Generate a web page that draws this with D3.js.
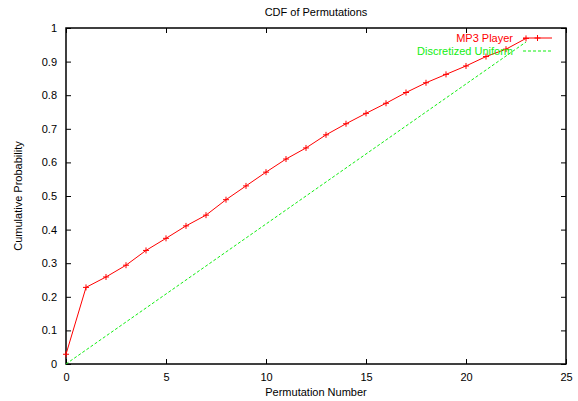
<!DOCTYPE html>
<html>
<head>
<meta charset="utf-8">
<script src="https://cdn.jsdelivr.net/npm/d3@7"></script>
<style>
  html, body { margin: 0; padding: 0; background: #fff; }
  svg { display: block; font-family: "Liberation Sans", Arial, sans-serif; }
</style>
</head>
<body>
<svg id="chart" width="578" height="401"></svg>
<script>
// Permutation indices and the measured cumulative probability of the MP3 player
const permutations = [0, 1, 2, 3, 4, 5, 6, 7, 8, 9, 10, 11, 12, 13, 14, 15, 16, 17, 18, 19, 20, 21, 22, 23];
const mp3Player = [0.029, 0.228, 0.259, 0.294, 0.338, 0.374, 0.411, 0.443, 0.489, 0.530, 0.571, 0.610,
                   0.643, 0.682, 0.715, 0.746, 0.776, 0.808, 0.837, 0.862, 0.887, 0.915, 0.937, 0.969];
// Discretized uniform reference: k/24
const uniform = [0, 1/24, 2/24, 3/24, 4/24, 5/24, 6/24, 7/24, 8/24, 9/24, 10/24, 11/24,
                 12/24, 13/24, 14/24, 15/24, 16/24, 17/24, 18/24, 19/24, 20/24, 21/24, 22/24, 23/24];
const xTicks = [0, 5, 10, 15, 20, 25];
const yTicks = [0, 0.1, 0.2, 0.3, 0.4, 0.5, 0.6, 0.7, 0.8, 0.9, 1];
const seriesNames = ["MP3 Player", "Discretized Uniform"];

const svg = d3.select("#chart");
const m = { left: 66, right: 566, top: 28, bottom: 364 };

const x = d3.scaleLinear().domain([0, 25]).range([m.left, m.right]);
const y = d3.scaleLinear().domain([0, 1]).range([m.bottom, m.top]);

const RED = "#ff0000";
const GREEN = "#11ee11";
const fontSize = 11;

// Axes with inward ticks on all four sides
const tickLen = 5;
const axisBottom = d3.axisBottom(x).tickValues(xTicks).tickSize(-tickLen).tickPadding(9).tickFormat(d3.format("d"));
const axisTop = d3.axisTop(x).tickValues(xTicks).tickSize(-tickLen).tickFormat("");
const axisLeft = d3.axisLeft(y).tickValues(yTicks).tickSize(-tickLen).tickPadding(9).tickFormat(d => d === 0 || d === 1 ? d3.format("d")(d) : d3.format(".1f")(d));
const axisRight = d3.axisRight(y).tickValues(yTicks).tickSize(-tickLen).tickFormat("");

function styleAxis(g) {
  g.select(".domain").remove();
  g.selectAll(".tick line").attr("stroke", "#000").attr("stroke-width", 1);
  g.selectAll(".tick text").attr("fill", "#000").style("font-size", fontSize + "px")
    .style("font-family", "'Liberation Sans', Arial, sans-serif");
}

svg.append("g").attr("transform", `translate(0,${m.bottom})`).call(axisBottom).call(styleAxis);
svg.append("g").attr("transform", `translate(0,${m.top})`).call(axisTop).call(styleAxis);
svg.append("g").attr("transform", `translate(${m.left},0)`).call(axisLeft).call(styleAxis);
svg.append("g").attr("transform", `translate(${m.right},0)`).call(axisRight).call(styleAxis);

// Plot border
svg.append("rect")
  .attr("x", m.left).attr("y", m.top)
  .attr("width", m.right - m.left).attr("height", m.bottom - m.top)
  .attr("fill", "none").attr("stroke", "#000").attr("stroke-width", 1.5);

// Titles
svg.append("text").attr("x", (m.left + m.right) / 2).attr("y", 16)
  .attr("text-anchor", "middle").style("font-size", fontSize + "px").text("CDF of Permutations");
svg.append("text").attr("x", (m.left + m.right) / 2).attr("y", 396)
  .attr("text-anchor", "middle").style("font-size", fontSize + "px").text("Permutation Number");
svg.append("text")
  .attr("transform", `translate(22,${(m.top + m.bottom) / 2}) rotate(-90)`)
  .attr("text-anchor", "middle").style("font-size", fontSize + "px").text("Cumulative Probability");

const line = d3.line();

// Uniform reference (dashed green)
const uniPts = permutations.map((p, i) => [x(p), y(uniform[i])]);
svg.append("path").attr("d", line(uniPts))
  .attr("fill", "none").attr("stroke", GREEN).attr("stroke-width", 1)
  .attr("stroke-dasharray", "3,2");

// MP3 player measured CDF (red line with + markers)
const mp3Pts = permutations.map((p, i) => [x(p), y(mp3Player[i])]);
svg.append("path").attr("d", line(mp3Pts))
  .attr("fill", "none").attr("stroke", RED).attr("stroke-width", 1);

function plus(g, cx, cy) {
  const s = 3;
  g.append("path")
    .attr("d", `M${cx - s},${cy}H${cx + s}M${cx},${cy - s}V${cy + s}`)
    .attr("stroke", RED).attr("stroke-width", 1).attr("fill", "none");
}
const markers = svg.append("g");
mp3Pts.forEach(([px, py]) => plus(markers, px, py));

// Key in the upper right corner
const keyX0 = 523, keyX1 = 552, keyTextX = 513;
const keyRows = [38, 51];
svg.append("text").attr("x", keyTextX).attr("y", keyRows[0] + 4)
  .attr("text-anchor", "end").attr("fill", RED).style("font-size", fontSize + "px").text(seriesNames[0]);
svg.append("path").attr("d", `M${keyX0},${keyRows[0]}H${keyX1}`)
  .attr("stroke", RED).attr("stroke-width", 1);
plus(svg, (keyX0 + keyX1) / 2, keyRows[0]);

svg.append("text").attr("x", keyTextX).attr("y", keyRows[1] + 4)
  .attr("text-anchor", "end").attr("fill", GREEN).style("font-size", fontSize + "px").text(seriesNames[1]);
svg.append("path").attr("d", `M${keyX0},${keyRows[1]}H${keyX1}`)
  .attr("stroke", GREEN).attr("stroke-width", 1).attr("stroke-dasharray", "3,2");
</script>
</body>
</html>
